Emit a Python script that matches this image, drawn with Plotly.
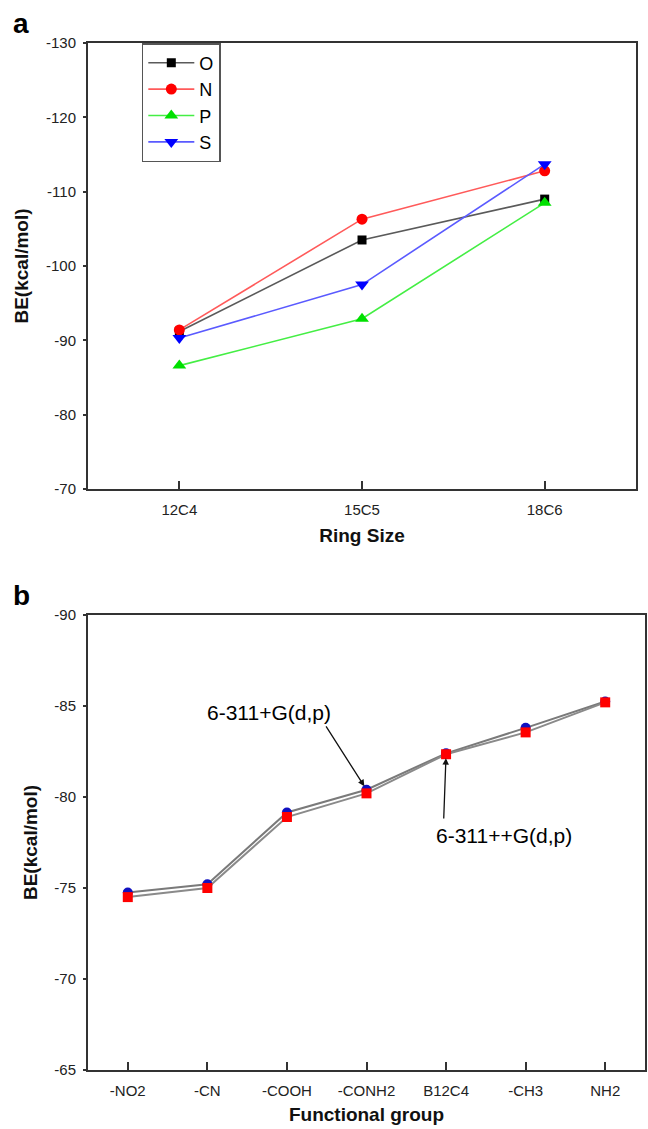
import plotly.graph_objects as go
from plotly.subplots import make_subplots

# ---------------- data ----------------
ring_sizes = ["12C4", "15C5", "18C6"]
be_O = [-91.2, -103.5, -109.0]
be_N = [-91.4, -106.3, -112.8]
be_P = [-86.6, -92.9, -108.5]
be_S = [-90.3, -97.5, -113.7]

groups = ["-NO2", "-CN", "-COOH", "-CONH2", "B12C4", "-CH3", "NH2"]
be_plus = [-74.75, -75.2, -79.15, -80.4, -82.4, -83.8, -85.25]       # 6-311+G(d,p)
be_plusplus = [-74.5, -75.0, -78.9, -80.2, -82.35, -83.55, -85.2]    # 6-311++G(d,p)

ticks_a = [-130, -120, -110, -100, -90, -80, -70]
ticks_b = [-90, -85, -80, -75, -70, -65]

# ---------------- layout geometry ----------------
W, H = 648, 1129
ML, MR, MT, MB = 88, 1, 43, 59
PW, PH = W - ML - MR, H - MT - MB

FONT = "Liberation Sans, Arial, sans-serif"

fig = make_subplots(rows=2, cols=1)

series_a = [
    ("O", be_O, "#5a5a5a", "#000000", "square", 9),
    ("N", be_N, "#ff5a5a", "#ff0000", "circle", 11),
    ("P", be_P, "#44ee44", "#00e000", "triangle-up", 12),
    ("S", be_S, "#5a5aff", "#0000ff", "triangle-down", 12),
]
for name, vals, lc, mc, sym, ms in series_a:
    fig.add_trace(go.Scatter(
        x=ring_sizes, y=vals, name=name, mode="lines+markers",
        line=dict(color=lc, width=1.6),
        marker=dict(color=mc, symbol=sym, size=ms, line=dict(width=0)),
        showlegend=True), row=1, col=1)

fig.add_trace(go.Scatter(
    x=groups, y=be_plus, name="6-311+G(d,p)", mode="lines+markers",
    line=dict(color="#7a7a7a", width=2),
    marker=dict(color="#1010c0", symbol="circle", size=10),
    showlegend=False), row=2, col=1)
fig.add_trace(go.Scatter(
    x=groups, y=be_plusplus, name="6-311++G(d,p)", mode="lines+markers",
    line=dict(color="#8a8a8a", width=2),
    marker=dict(color="#ff0000", symbol="square", size=10),
    showlegend=False), row=2, col=1)

axis_common = dict(
    showline=True, linecolor="#333333", linewidth=2, mirror=True,
    showgrid=False, zeroline=False,
    tickfont=dict(family=FONT, size=15, color="#222222"),
    title_font=dict(family=FONT, size=19, color="#111111"),
)

ya_top = (H - MB - 489) / PH
yb_top = (H - MB - 615) / PH
xa_right = (638 - ML) / PW

fig.update_xaxes(**axis_common, row=1, col=1)
fig.update_xaxes(**axis_common, row=2, col=1)
fig.update_yaxes(**axis_common, row=1, col=1)
fig.update_yaxes(**axis_common, row=2, col=1)

fig.update_layout(
    xaxis=dict(domain=[0, xa_right], type="category", range=[-0.5, 2.5],
               ticks="inside", ticklen=8, tickwidth=2, tickcolor="#333333",
               ticklabelstandoff=6,
               title=dict(text="<b>Ring Size</b>", standoff=12)),
    yaxis=dict(domain=[ya_top, 1], range=[-70, -130],
               tickvals=ticks_a, ticktext=[str(v) for v in ticks_a],
               ticks="outside", ticklen=3, tickwidth=1.5, tickcolor="#333333",
               ticklabelstandoff=4,
               title=dict(text="<b>BE(kcal/mol)</b>", standoff=12)),
    xaxis2=dict(domain=[0, 1], type="category", range=[-0.5, 6.5],
                ticks="inside", ticklen=8, tickwidth=2, tickcolor="#333333",
                ticklabelstandoff=6,
                title=dict(text="<b>Functional group</b>", standoff=10)),
    yaxis2=dict(domain=[0, yb_top], range=[-65, -90],
                tickvals=ticks_b, ticktext=[str(v) for v in ticks_b],
                ticks="outside", ticklen=3, tickwidth=1.5, tickcolor="#333333",
                ticklabelstandoff=4,
                title=dict(text="<b>BE(kcal/mol)</b>", standoff=12)),
)

# legend (panel a)
fig.update_layout(
    legend=dict(x=(142 - ML) / PW, y=1.0, xanchor="left", yanchor="top",
                bgcolor="rgba(255,255,255,0)", bordercolor="#555555",
                borderwidth=1.5, font=dict(family=FONT, size=18, color="#000000"),
                itemwidth=46, tracegroupgap=0),
)

annotations = [
    dict(text="<b>a</b>", xref="paper", yref="paper",
         x=(21 - ML) / PW, y=(H - MB - 23) / PH, showarrow=False,
         font=dict(family=FONT, size=28, color="#000000"),
         xanchor="center", yanchor="middle"),
    dict(text="<b>b</b>", xref="paper", yref="paper",
         x=(21 - ML) / PW, y=(H - MB - 595) / PH, showarrow=False,
         font=dict(family=FONT, size=28, color="#000000"),
         xanchor="center", yanchor="middle"),
    # labels in panel b
    dict(text="6-311+G(d,p)", xref="x2", yref="y2", x=1.78, y=-84.67,
         showarrow=False, font=dict(family=FONT, size=21, color="#000000")),
    dict(text="6-311++G(d,p)", xref="x2", yref="y2", x=4.73, y=-77.86,
         showarrow=False, font=dict(family=FONT, size=21, color="#000000")),
    # arrows
    dict(text="", xref="x2", yref="y2", x=groups.index("-CONH2"),
         y=be_plus[groups.index("-CONH2")],
         axref="x2", ayref="y2", ax=2.48, ay=-83.96,
         showarrow=True, arrowhead=2, arrowsize=1, arrowwidth=1.3,
         arrowcolor="#111111", standoff=4),
    dict(text="", xref="x2", yref="y2", x=groups.index("B12C4"),
         y=be_plusplus[groups.index("B12C4")],
         axref="x2", ayref="y2", ax=3.97, ay=-78.74,
         showarrow=True, arrowhead=2, arrowsize=1, arrowwidth=1.3,
         arrowcolor="#111111", standoff=4),
]

fig.update_layout(
    width=W, height=H,
    margin=dict(l=ML, r=MR, t=MT, b=MB, pad=0),
    paper_bgcolor="white", plot_bgcolor="white",
    font=dict(family=FONT, color="#000000"),
    annotations=annotations,
)

fig.write_html("out.html")
